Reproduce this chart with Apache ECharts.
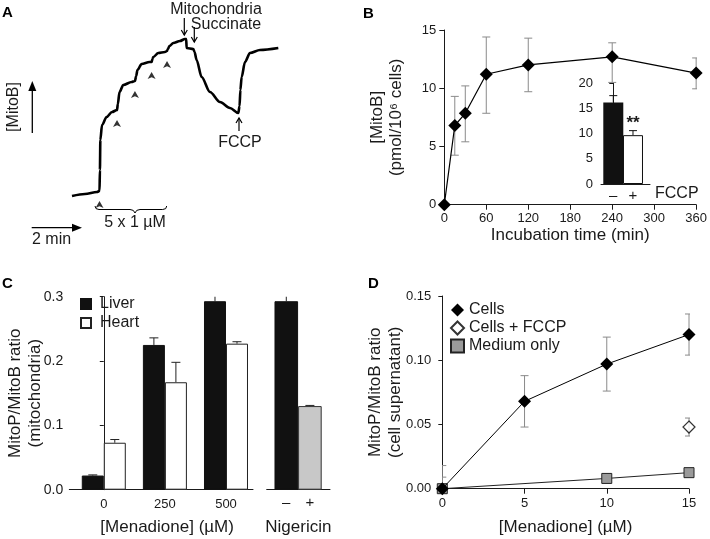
<!DOCTYPE html>
<html><head><meta charset="utf-8">
<script src="https://cdn.jsdelivr.net/npm/echarts@6/dist/echarts.min.js"></script>
<style>html,body{margin:0;padding:0;background:#fff}#c{width:710px;height:539px}</style>
</head><body><div id="c"></div>
<script>
// ---------- Panel A: MitoB electrode trace (time in s, signal in a.u.) ----------
const traceTime   = [0,31,60,66,67,68,72,83,96,108,110,114,123,143,151,154,157,167,186,191,193,195,207,223,228,230,234,243,259,271,274,275,291,294,299,311,331,355,379,399,402,404,407,415,427,451,495];
const traceSignal = [0,2,4,5,26,56,71,79,84,86,92,104,111,114,115,120,126,132,134,134,137,139,143,144,145,147,150,153,155,157,157,148,147,144,136,119,104,94,88,83,90,106,119,134,143,146,148];
const additionTimes = [66,108,151,191,228];   // 5 x 1 µM MitoB additions

// ---------- Panel B: MitoB uptake ----------
const incubationTime = [0,15,30,60,120,240,360];
const mitoBUptake    = [0,6.8,7.85,11.2,12.0,12.7,11.3];
const mitoBUpper     = [0,9.3,10.2,14.4,14.3,13.9,12.6];
const mitoBLower     = [0,4.25,5.4,7.85,9.7,10.5,9.95];
const insetLabels = ['–','+'];
const insetValues = [16.2,9.7];
const insetErr    = [1.35,0.9];

// ---------- Panel C: isolated mitochondria ----------
const menadioneDoses = ['0','250','500'];
const liverRatio = [0.022,0.225,0.293];
const liverErr   = [0.001,0.011,0.018];
const heartRatio = [0.073,0.167,0.227];
const heartErr   = [0.005,0.031,0.003];
const nigericinLabels = ['–','+'];
const nigericinRatio  = [0.293,0.130];
const nigericinErr    = [0.019,0.001];

// ---------- Panel D: cell supernatant ----------
const menadioneD  = [0,5,10,15];
const cellsRatio  = [0,0.068,0.097,0.120];
const cellsErr    = [0.018,0.020,0.021,0.016];
const fccpDose    = [15];
const fccpRatio   = [0.048];
const fccpErr     = [0.007];
const mediumDose  = [0,10,15];
const mediumRatio = [0,0.008,0.0125];
const mediumErr   = [0.009,0.0005,0.0005];

const FF = '"Liberation Sans", Arial, sans-serif';
const TXT = '#1a1a1a';
const AX = '#1a1a1a';

function zip(xs, ys){ return xs.map((x,i)=>[x, ys[i]]); }

function errSeries(xi, yi, rows, color, cap, dx, upOnly, z){
  return {
    type:'custom', xAxisIndex:xi, yAxisIndex:yi, z:z||1, clip:true, silent:true,
    data: rows,
    renderItem(params, api){
      const x = api.value(0), lo = api.value(1), hi = api.value(2);
      const t = api.coord([x, hi]), b = api.coord([x, lo]);
      const cx = t[0] + dx;
      const st = {stroke:color, lineWidth:1};
      const ch = [
        {type:'line', shape:{x1:cx,y1:t[1],x2:cx,y2:b[1]}, style:st},
        {type:'line', shape:{x1:cx-cap/2,y1:t[1],x2:cx+cap/2,y2:t[1]}, style:st}
      ];
      if(!upOnly) ch.push({type:'line', shape:{x1:cx-cap/2,y1:b[1],x2:cx+cap/2,y2:b[1]}, style:st});
      return {type:'group', children:ch};
    }
  };
}

const axisLineStyle = {show:true, lineStyle:{color:AX, width:1}};
const labelStyle = {color:TXT, fontSize:13, fontFamily:FF};
const nameStyle = {color:TXT, fontSize:17, fontFamily:FF};
const thin = {stroke:'#000', lineWidth:1.2};
const txt16 = {fontSize:16, fontFamily:FF, fill:TXT, align:'center', verticalAlign:'middle'};

const chart = echarts.init(document.getElementById('c'), null, {renderer:'canvas'});

const option = {
  animation:false,
  backgroundColor:'#fff',
  textStyle:{fontFamily:FF},
  grid:[
    {left:72, top:36, width:208.4, height:190},          // A
    {left:444.3, top:30, width:252.7, height:174.7},     // B
    {left:601, top:83.3, width:49, height:100.7},        // B inset
    {left:69.3, top:296.7, width:183.7, height:193},     // C menadione
    {left:266.7, top:296.7, width:63.3, height:193},     // C nigericin
    {left:442.3, top:296, width:246.7, height:192.7}     // D
  ],
  xAxis:[
    {gridIndex:0, type:'value', min:0, max:500, show:false},
    {gridIndex:1, type:'value', min:0, max:360, interval:60,
      axisLine:axisLineStyle, axisTick:{show:true, length:5, lineStyle:{color:AX}},
      axisLabel:Object.assign({margin:7}, labelStyle), splitLine:{show:false},
      name:'Incubation time (min)', nameLocation:'middle', nameGap:22, nameTextStyle:nameStyle},
    {gridIndex:2, type:'value', min:-0.624, max:1.863,
      axisLine:axisLineStyle, axisTick:{show:false}, splitLine:{show:false},
      axisLabel:Object.assign({margin:4, customValues:[0,1], formatter:v=>insetLabels[Math.round(v)]}, labelStyle, {fontSize:15}),
      name:'FCCP', nameLocation:'end', nameGap:5,
      nameTextStyle:{color:TXT, fontSize:16, fontFamily:FF, verticalAlign:'top', padding:[2,0,0,0]}},
    {gridIndex:3, type:'value', min:-0.5646, max:2.442,
      axisLine:axisLineStyle, axisTick:{show:false}, splitLine:{show:false},
      axisLabel:Object.assign({margin:8, customValues:[0,1,2], formatter:v=>menadioneDoses[Math.round(v)]}, labelStyle),
      name:'[Menadione] (µM)', nameLocation:'middle', nameGap:29,
      nameTextStyle:Object.assign({padding:[0,0,0,12]}, nameStyle)},
    {gridIndex:4, type:'value', min:-0.83, max:1.852,
      axisLine:axisLineStyle, axisTick:{show:false}, splitLine:{show:false},
      axisLabel:Object.assign({margin:6, customValues:[0,1], formatter:v=>nigericinLabels[Math.round(v)]}, labelStyle, {fontSize:15}),
      name:'Nigericin', nameLocation:'middle', nameGap:29, nameTextStyle:nameStyle},
    {gridIndex:5, type:'value', min:0, max:15, interval:5,
      axisLine:axisLineStyle, axisTick:{show:true, length:5, lineStyle:{color:AX}},
      axisLabel:Object.assign({margin:8}, labelStyle), splitLine:{show:false},
      name:'[Menadione] (µM)', nameLocation:'middle', nameGap:30, nameTextStyle:nameStyle}
  ],
  yAxis:[
    {gridIndex:0, type:'value', min:-30, max:160, show:false},
    {gridIndex:1, type:'value', min:0, max:15, interval:5,
      axisLine:axisLineStyle, axisTick:{show:true, length:5, lineStyle:{color:AX}},
      axisLabel:Object.assign({margin:8}, labelStyle), splitLine:{show:false},
      name:'[MitoB]\n(pmol/10⁶ cells)', nameLocation:'middle', nameGap:38, nameRotate:90, nameMoveOverlap:false,
      nameTextStyle:Object.assign({lineHeight:19}, nameStyle)},
    {gridIndex:2, type:'value', min:0, max:20, interval:5,
      axisLine:axisLineStyle, axisTick:{show:true, length:4, lineStyle:{color:AX}},
      axisLabel:Object.assign({margin:8}, labelStyle), splitLine:{show:false}},
    {gridIndex:3, type:'value', min:0, max:0.3, interval:0.1,
      axisLine:axisLineStyle, axisTick:{show:true, length:4, lineStyle:{color:AX}},
      axisLabel:Object.assign({margin:6, formatter:v=>v.toFixed(1)}, labelStyle, {fontSize:14}), splitLine:{show:false},
      name:'MitoP/MitoB ratio\n(mitochondria)', nameLocation:'middle', nameGap:23.5, nameRotate:90, nameMoveOverlap:false,
      nameTextStyle:Object.assign({lineHeight:20}, nameStyle)},
    {gridIndex:4, type:'value', min:0, max:0.3, interval:0.1, show:false},
    {gridIndex:5, type:'value', min:0, max:0.15, interval:0.05,
      axisLine:axisLineStyle, axisTick:{show:true, length:4, lineStyle:{color:AX}},
      axisLabel:Object.assign({margin:11, formatter:v=>v.toFixed(2)}, labelStyle), splitLine:{show:false},
      name:'MitoP/MitoB ratio\n(cell supernatant)', nameLocation:'middle', nameGap:36.5, nameRotate:90, nameMoveOverlap:false,
      nameTextStyle:Object.assign({lineHeight:20}, nameStyle)}
  ],
  legend:[
    {data:['Liver','Heart'], orient:'vertical', left:80, top:296, padding:0,
      itemWidth:10, itemHeight:10, itemGap:3, icon:'rect', selectedMode:false,
      textStyle:{color:TXT, fontSize:16, fontFamily:FF, padding:[0,0,0,4]}},
    {data:[{name:'Cells', icon:'diamond'},{name:'Cells + FCCP', icon:'diamond'},{name:'Medium only', icon:'rect'}],
      orient:'vertical', left:450, top:302, padding:0, itemWidth:13, itemHeight:13, itemGap:2, selectedMode:false,
      textStyle:{color:TXT, fontSize:16, fontFamily:FF}}
  ],
  series:[
    // A trace
    {type:'line', xAxisIndex:0, yAxisIndex:0, data:zip(traceTime, traceSignal), showSymbol:false,
      smooth:0.3, smoothMonotone:'x', lineStyle:{color:'#000', width:2.6}, silent:true, z:2},
    {type:'scatter', xAxisIndex:0, yAxisIndex:0, silent:true, z:3,
      data:additionTimes.map(t=>[t, traceSignal[traceTime.indexOf(t)]]),
      symbol:'arrow', symbolSize:[6,7], symbolOffset:[0,10], itemStyle:{color:'#000'}},
    // B
    errSeries(1,1, incubationTime.slice(1).map((t,i)=>[t, mitoBLower[i+1], mitoBUpper[i+1]]), '#8a8a8a', 8, 0, false, 1),
    {name:'MitoB uptake', type:'line', xAxisIndex:1, yAxisIndex:1, data:zip(incubationTime, mitoBUptake),
      symbol:'diamond', symbolSize:13, itemStyle:{color:'#000'}, lineStyle:{color:'#000', width:1.2}, z:3},
    // B inset
    {name:'FCCP inset', type:'bar', xAxisIndex:2, yAxisIndex:2, barWidth:20,
      data:insetValues.map((v,i)=>({value:[i,v], itemStyle: i===0 ? {color:'#111'} : {color:'#fff', borderColor:'#111', borderWidth:1},
        label: i===1 ? {show:true, position:'top', distance:3, formatter:'**', fontSize:17, fontWeight:'bold', color:TXT, fontFamily:FF} : {show:false}})), z:2},
    errSeries(2,2, insetValues.map((v,i)=>[i, v, v+insetErr[i]]), '#111', 8, 0, true, 1),
    // C
    {name:'Liver', type:'bar', xAxisIndex:3, yAxisIndex:3, barWidth:22, barGap:'0%',
      data:liverRatio.map((v,i)=>[i,v]), itemStyle:{color:'#111', borderColor:'#111', borderWidth:1}, z:2},
    {name:'Heart', type:'bar', xAxisIndex:3, yAxisIndex:3, barWidth:22, barGap:'0%',
      data:heartRatio.map((v,i)=>[i,v]), itemStyle:{color:'#fff', borderColor:'#222', borderWidth:1}, z:2},
    errSeries(3,3, liverRatio.map((v,i)=>[i, v, v+liverErr[i]]), '#222', 9, -11, true, 1),
    errSeries(3,3, heartRatio.map((v,i)=>[i, v, v+heartErr[i]]), '#222', 9, 11, true, 1),
    {name:'Nigericin', type:'bar', xAxisIndex:4, yAxisIndex:4, barWidth:23.6,
      data:nigericinRatio.map((v,i)=>({value:[i,v], itemStyle: i===0 ? {color:'#111', borderColor:'#111', borderWidth:1} : {color:'#c8c8c8', borderColor:'#333', borderWidth:1}})), z:2},
    errSeries(4,4, nigericinRatio.map((v,i)=>[i, v, v+nigericinErr[i]]), '#222', 9, 0, true, 1),
    // D
    errSeries(5,5, menadioneD.map((x,i)=>[x, cellsRatio[i]-cellsErr[i], cellsRatio[i]+cellsErr[i]]), '#8a8a8a', 8, 0, false, 1),
    errSeries(5,5, fccpDose.map((x,i)=>[x, fccpRatio[i]-fccpErr[i], fccpRatio[i]+fccpErr[i]]), '#8a8a8a', 8, 0, false, 1),
    errSeries(5,5, mediumDose.map((x,i)=>[x, mediumRatio[i]-mediumErr[i], mediumRatio[i]+mediumErr[i]]), '#8a8a8a', 8, 0, false, 1),
    {name:'Medium only', type:'line', xAxisIndex:5, yAxisIndex:5, data:zip(mediumDose, mediumRatio),
      symbol:'rect', symbolSize:10, itemStyle:{color:'#9a9a9a', borderColor:'#222', borderWidth:1},
      lineStyle:{color:'#222', width:1}, z:3},
    {name:'Cells', type:'line', xAxisIndex:5, yAxisIndex:5, data:zip(menadioneD, cellsRatio),
      symbol:'diamond', symbolSize:13, itemStyle:{color:'#000'}, lineStyle:{color:'#000', width:1}, z:4},
    {name:'Cells + FCCP', type:'scatter', xAxisIndex:5, yAxisIndex:5, data:zip(fccpDose, fccpRatio),
      symbol:'diamond', symbolSize:12, itemStyle:{color:'#fff', borderColor:'#000', borderWidth:1.2}, z:4}
  ],
  graphic:[
    {type:'text', left:2, top:5, style:{text:'A', fontSize:15, fontWeight:'bold', fontFamily:FF, fill:'#000'}},
    {type:'text', left:363, top:6, style:{text:'B', fontSize:15, fontWeight:'bold', fontFamily:FF, fill:'#000'}},
    {type:'text', left:2, top:276, style:{text:'C', fontSize:15, fontWeight:'bold', fontFamily:FF, fill:'#000'}},
    {type:'text', left:368, top:276, style:{text:'D', fontSize:15, fontWeight:'bold', fontFamily:FF, fill:'#000'}},
    // [MitoB] label and arrow
    {type:'text', x:14, y:107, rotation:Math.PI/2, style:Object.assign({text:'[MitoB]'}, txt16)},
    {type:'line', shape:{x1:32.3,y1:133,x2:32.3,y2:88}, style:{stroke:'#000', lineWidth:1.3}},
    {type:'polygon', shape:{points:[[32.3,81],[28.3,91],[36.3,91]]}, style:{fill:'#000'}},
    // 2 min arrow
    {type:'line', shape:{x1:31.7,y1:227.7,x2:75,y2:227.7}, style:{stroke:'#000', lineWidth:1.3}},
    {type:'polygon', shape:{points:[[82,227.7],[72,223.7],[72,231.7]]}, style:{fill:'#000'}},
    {type:'text', x:32, y:240, style:{text:'2 min', fontSize:16, fontFamily:FF, fill:TXT, align:'left', verticalAlign:'middle'}},
    // brace
    {type:'bezierCurve', shape:{x1:95,y1:206,x2:99,y2:209.5,cpx1:95,cpy1:209.5}, style:{stroke:'#000', lineWidth:1, fill:null}},
    {type:'line', shape:{x1:99,y1:209.5,x2:130,y2:209.5}, style:{stroke:'#000', lineWidth:1}},
    {type:'bezierCurve', shape:{x1:130,y1:209.5,x2:135,y2:213,cpx1:134,cpy1:209.5}, style:{stroke:'#000', lineWidth:1, fill:null}},
    {type:'bezierCurve', shape:{x1:135,y1:213,x2:140,y2:209.5,cpx1:136,cpy1:209.5}, style:{stroke:'#000', lineWidth:1, fill:null}},
    {type:'line', shape:{x1:140,y1:209.5,x2:162.7,y2:209.5}, style:{stroke:'#000', lineWidth:1}},
    {type:'bezierCurve', shape:{x1:162.7,y1:209.5,x2:166.7,y2:206,cpx1:166.7,cpy1:209.5}, style:{stroke:'#000', lineWidth:1, fill:null}},
    {type:'text', x:135, y:223, style:Object.assign({text:'5 x 1 µM'}, txt16)},
    // Mitochondria / Succinate
    {type:'text', x:216, y:10, style:Object.assign({text:'Mitochondria'}, txt16)},
    {type:'text', x:226, y:25, style:Object.assign({text:'Succinate'}, txt16)},
    {type:'line', shape:{x1:184.3,y1:18,x2:184.3,y2:35}, style:thin},
    {type:'polyline', shape:{points:[[181.3,30],[184.3,35],[187.3,30]]}, style:thin},
    {type:'line', shape:{x1:194.3,y1:27,x2:194.3,y2:42}, style:thin},
    {type:'polyline', shape:{points:[[191.3,37],[194.3,42],[197.3,37]]}, style:thin},
    // FCCP
    {type:'line', shape:{x1:239,y1:131,x2:239,y2:118}, style:thin},
    {type:'polyline', shape:{points:[[236,123],[239,118],[242,123]]}, style:thin},
    {type:'text', x:240, y:143, style:Object.assign({text:'FCCP'}, txt16)}
  ]
};
chart.setOption(option);
</script>
</body></html>
